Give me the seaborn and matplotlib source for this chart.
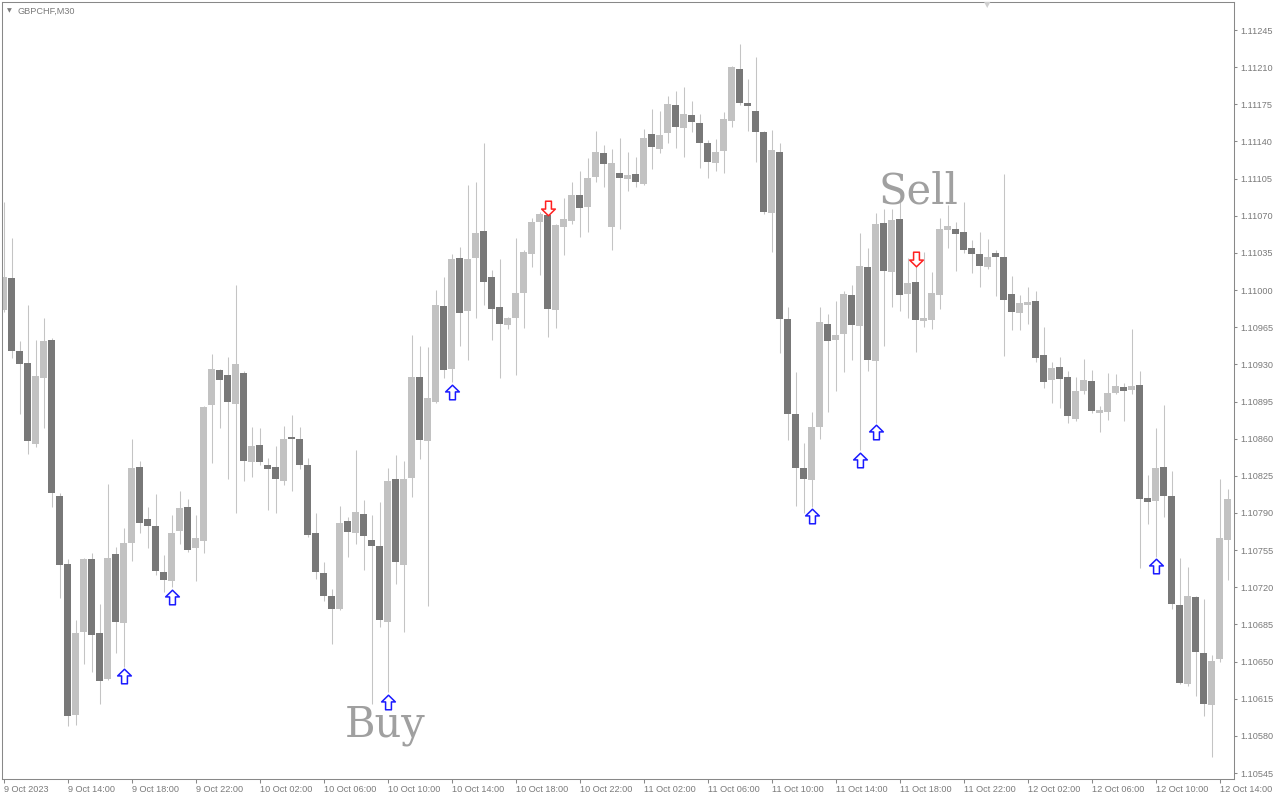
import numpy as np
import pandas as pd
import matplotlib
matplotlib.use("Agg")
import matplotlib.pyplot as plt
from matplotlib.path import Path
import seaborn as sns

symbol = "GBPCHF,M30"

# one bar per 30 minutes, first bar = 9 Oct 10:00
opens = [1.10981, 1.11011, 1.10943, 1.10931, 1.10855, 1.10917, 1.10953, 1.10806, 1.10742, 1.10600,
         1.10678, 1.10747, 1.10677, 1.10634, 1.10751, 1.10686, 1.10762, 1.10833, 1.10784, 1.10778,
         1.10734, 1.10726, 1.10773, 1.10796, 1.10757, 1.10764, 1.10892, 1.10925, 1.10920, 1.10893,
         1.10922, 1.10838, 1.10854, 1.10835, 1.10833, 1.10820, 1.10861, 1.10860, 1.10835, 1.10771,
         1.10733, 1.10712, 1.10700, 1.10782, 1.10771, 1.10789, 1.10765, 1.10759, 1.10687, 1.10822,
         1.10741, 1.10823, 1.10918, 1.10858, 1.10895, 1.10985, 1.10926, 1.11030, 1.10980, 1.11030,
         1.11056, 1.11012, 1.10984, 1.10967, 1.10974, 1.10997, 1.11034, 1.11064, 1.11071, 1.10981,
         1.11059, 1.11065, 1.11090, 1.11078, 1.11107, 1.11129, 1.11059, 1.11110, 1.11105, 1.11109,
         1.11100, 1.11147, 1.11133, 1.11148, 1.11174, 1.11153, 1.11165, 1.11157, 1.11139, 1.11120,
         1.11131, 1.11159, 1.11208, 1.11176, 1.11169, 1.11149, 1.11073, 1.11130, 1.10973, 1.10883,
         1.10832, 1.10821, 1.10871, 1.10968, 1.10953, 1.10959, 1.10995, 1.10966, 1.11022, 1.10933,
         1.11063, 1.11017, 1.11067, 1.10996, 1.11008, 1.10971, 1.10972, 1.10995, 1.11057, 1.11058,
         1.11055, 1.11040, 1.11034, 1.11022, 1.11035, 1.11031, 1.10996, 1.10978, 1.10986, 1.10990,
         1.10939, 1.10915, 1.10928, 1.10918, 1.10879, 1.10905, 1.10914, 1.10884, 1.10885, 1.10903,
         1.10909, 1.10906, 1.10911, 1.10804, 1.10801, 1.10833, 1.10806, 1.10703, 1.10629, 1.10711,
         1.10658, 1.10609, 1.10652, 1.10765]
highs = [1.11083, 1.11049, 1.10952, 1.10986, 1.10953, 1.10974, 1.10955, 1.10809, 1.10747, 1.10689,
         1.10748, 1.10752, 1.10704, 1.10817, 1.10758, 1.10776, 1.10860, 1.10839, 1.10796, 1.10808,
         1.10750, 1.10788, 1.10811, 1.10803, 1.10788, 1.10891, 1.10940, 1.10926, 1.10937, 1.11005,
         1.10924, 1.10871, 1.10870, 1.10842, 1.10853, 1.10872, 1.10882, 1.10871, 1.10842, 1.10790,
         1.10744, 1.10718, 1.10797, 1.10786, 1.10849, 1.10802, 1.10788, 1.10800, 1.10832, 1.10845,
         1.10839, 1.10958, 1.10947, 1.10946, 1.11000, 1.11012, 1.11034, 1.11041, 1.11099, 1.11102,
         1.11139, 1.11019, 1.11029, 1.10975, 1.11049, 1.11038, 1.11068, 1.11074, 1.11076, 1.11062,
         1.11087, 1.11102, 1.11112, 1.11124, 1.11150, 1.11137, 1.11133, 1.11143, 1.11130, 1.11125,
         1.11152, 1.11171, 1.11169, 1.11183, 1.11188, 1.11191, 1.11178, 1.11166, 1.11141, 1.11142,
         1.11168, 1.11211, 1.11232, 1.11199, 1.11220, 1.11150, 1.11151, 1.11139, 1.10984, 1.10923,
         1.10856, 1.10885, 1.10984, 1.10977, 1.10990, 1.10999, 1.11005, 1.11054, 1.11040, 1.11073,
         1.11076, 1.11076, 1.11083, 1.11030, 1.11028, 1.11036, 1.11017, 1.11068, 1.11080, 1.11064,
         1.11083, 1.11047, 1.11055, 1.11048, 1.11038, 1.11109, 1.11013, 1.10995, 1.11003, 1.10999,
         1.10965, 1.10932, 1.10937, 1.10924, 1.10918, 1.10935, 1.10925, 1.10891, 1.10922, 1.10921,
         1.10912, 1.10963, 1.10924, 1.10826, 1.10870, 1.10892, 1.10830, 1.10748, 1.10739, 1.10712,
         1.10709, 1.10656, 1.10822, 1.10813]
lows = [1.10979, 1.10936, 1.10883, 1.10846, 1.10852, 1.10870, 1.10796, 1.10710, 1.10589, 1.10590,
        1.10648, 1.10640, 1.10610, 1.10633, 1.10658, 1.10645, 1.10745, 1.10771, 1.10757, 1.10732,
        1.10716, 1.10720, 1.10761, 1.10753, 1.10726, 1.10752, 1.10837, 1.10870, 1.10822, 1.10790,
        1.10820, 1.10824, 1.10835, 1.10793, 1.10790, 1.10816, 1.10811, 1.10831, 1.10767, 1.10728,
        1.10707, 1.10667, 1.10699, 1.10749, 1.10761, 1.10736, 1.10610, 1.10683, 1.10621, 1.10723,
        1.10678, 1.10805, 1.10841, 1.10702, 1.10894, 1.10917, 1.10913, 1.10947, 1.10934, 1.10974,
        1.10986, 1.10953, 1.10917, 1.10963, 1.10920, 1.10964, 1.11022, 1.11014, 1.10956, 1.10964,
        1.11033, 1.11062, 1.11050, 1.11055, 1.11102, 1.11097, 1.11038, 1.11058, 1.11093, 1.11097,
        1.11099, 1.11114, 1.11129, 1.11139, 1.11134, 1.11125, 1.11149, 1.11115, 1.11106, 1.11112,
        1.11110, 1.11154, 1.11174, 1.11150, 1.11121, 1.11072, 1.11036, 1.10941, 1.10859, 1.10797,
        1.10790, 1.10796, 1.10860, 1.10885, 1.10905, 1.10923, 1.10934, 1.10849, 1.10924, 1.10875,
        1.10947, 1.10984, 1.10980, 1.10974, 1.10942, 1.10965, 1.10963, 1.10982, 1.11040, 1.11018,
        1.11035, 1.11016, 1.11003, 1.11020, 1.10994, 1.10938, 1.10962, 1.10962, 1.10968, 1.10932,
        1.10908, 1.10894, 1.10889, 1.10875, 1.10877, 1.10902, 1.10884, 1.10866, 1.10878, 1.10902,
        1.10877, 1.10902, 1.10738, 1.10780, 1.10749, 1.10786, 1.10700, 1.10629, 1.10627, 1.10618,
        1.10599, 1.10560, 1.10650, 1.10727]
closes = [1.11012, 1.10943, 1.10930, 1.10858, 1.10919, 1.10952, 1.10809, 1.10741, 1.10599, 1.10677,
          1.10747, 1.10675, 1.10632, 1.10748, 1.10687, 1.10762, 1.10832, 1.10781, 1.10778, 1.10735,
          1.10727, 1.10771, 1.10795, 1.10755, 1.10766, 1.10890, 1.10926, 1.10915, 1.10895, 1.10930,
          1.10839, 1.10853, 1.10838, 1.10831, 1.10822, 1.10860, 1.10860, 1.10835, 1.10769, 1.10734,
          1.10712, 1.10700, 1.10781, 1.10772, 1.10791, 1.10768, 1.10759, 1.10689, 1.10820, 1.10744,
          1.10822, 1.10918, 1.10859, 1.10898, 1.10986, 1.10925, 1.11029, 1.10978, 1.11029, 1.11054,
          1.11008, 1.10982, 1.10968, 1.10974, 1.10997, 1.11036, 1.11064, 1.11072, 1.10982, 1.11061,
          1.11067, 1.11090, 1.11077, 1.11106, 1.11130, 1.11119, 1.11120, 1.11106, 1.11108, 1.11102,
          1.11143, 1.11135, 1.11146, 1.11175, 1.11154, 1.11166, 1.11158, 1.11139, 1.11121, 1.11130,
          1.11161, 1.11210, 1.11176, 1.11173, 1.11149, 1.11074, 1.11132, 1.10973, 1.10883, 1.10832,
          1.10822, 1.10871, 1.10970, 1.10952, 1.10958, 1.10996, 1.10967, 1.11023, 1.10934, 1.11062,
          1.11018, 1.11066, 1.10995, 1.11007, 1.10972, 1.10974, 1.10997, 1.11058, 1.11060, 1.11053,
          1.11038, 1.11034, 1.11023, 1.11031, 1.11031, 1.10991, 1.10979, 1.10988, 1.10989, 1.10936,
          1.10913, 1.10927, 1.10916, 1.10881, 1.10905, 1.10915, 1.10886, 1.10887, 1.10903, 1.10910,
          1.10905, 1.10910, 1.10803, 1.10800, 1.10832, 1.10806, 1.10704, 1.10630, 1.10712, 1.10659,
          1.10610, 1.10651, 1.10766, 1.10803]

# bars (index into the lists above) that carry an arrow signal
buy_bars = [15, 21, 48, 56, 101, 107, 109, 144]
sell_bars = [68, 114]

time_labels = ["9 Oct 2023", "9 Oct 14:00", "9 Oct 18:00", "9 Oct 22:00", "10 Oct 02:00",
               "10 Oct 06:00", "10 Oct 10:00", "10 Oct 14:00", "10 Oct 18:00", "10 Oct 22:00",
               "11 Oct 02:00", "11 Oct 06:00", "11 Oct 10:00", "11 Oct 14:00", "11 Oct 18:00",
               "11 Oct 22:00", "12 Oct 02:00", "12 Oct 06:00", "12 Oct 10:00", "12 Oct 14:00"]
price_labels = ["1.10545", "1.10580", "1.10615", "1.10650", "1.10685", "1.10720", "1.10755",
                "1.10790", "1.10825", "1.10860", "1.10895", "1.10930", "1.10965", "1.11000",
                "1.11035", "1.11070", "1.11105", "1.11140", "1.11175", "1.11210", "1.11245"]


def arrow_marker(up=True):
    # hollow block arrow, like the terminal's signal arrows
    pts = [(0, 0.5), (0.47, 0.04), (0.2, 0.04), (0.2, -0.5), (-0.2, -0.5),
           (-0.2, 0.04), (-0.47, 0.04), (0, 0.5)]
    if not up:
        pts = [(x, -y) for x, y in pts]
    codes = [Path.MOVETO] + [Path.LINETO] * 6 + [Path.CLOSEPOLY]
    return Path(pts, codes)


def main():
    sns.set_style("white")
    plt.rcParams['font.family'] = ['Liberation Sans', 'DejaVu Sans']

    df = pd.DataFrame({"open": opens, "high": highs, "low": lows, "close": closes})
    df["bar"] = np.arange(len(df))
    df["bull"] = df["close"] >= df["open"]

    fig = plt.figure(figsize=(12.8, 8), dpi=100)
    ax = fig.add_axes([2 / 1280, 21 / 800, 1232 / 1280, 777 / 800])

    # wicks
    ax.vlines(df["bar"], df["low"], df["high"], color="#c4c4c4", linewidth=0.75, zorder=1)

    # bodies
    body_low = df[["open", "close"]].min(axis=1)
    body_h = (df["close"] - df["open"]).abs().clip(lower=0.000012)
    colors = np.where(df["bull"], "#c2c2c2", "#787878")
    ax.bar(df["bar"], body_h, bottom=body_low, width=0.84, color=colors, linewidth=0, zorder=2)

    # signal arrows
    buys = df.loc[buy_bars].copy()
    buys["y"] = buys["low"] - 0.00009
    sells = df.loc[sell_bars].copy()
    sells["y"] = sells["high"] + 0.00001
    sns.scatterplot(data=buys, x="bar", y="y", marker=arrow_marker(True), s=110,
                    color="white", edgecolor="#1a1aff", linewidth=1.1, zorder=4,
                    legend=False, ax=ax)
    sns.scatterplot(data=sells, x="bar", y="y", marker=arrow_marker(False), s=110,
                    color="white", edgecolor="#ff2020", linewidth=1.1, zorder=4,
                    legend=False, ax=ax)

    ax.text(47.75, 1.10579, "Buy", fontsize=30, color="#a0a0a0", family="DejaVu Serif",
            ha="center", va="baseline")
    ax.text(114.4, 1.11082, "Sell", fontsize=30, color="#a0a0a0", family="DejaVu Serif",
            ha="center", va="baseline")

    ax.set_xlim(-0.1875, 153.81)
    ax.set_ylim(1.105394, 1.112714)
    ax.set_xlabel("")
    ax.set_ylabel("")

    ax.set_xticks(np.arange(0, len(df), 8))
    ax.set_xticklabels(time_labels, ha="left")
    ax.yaxis.tick_right()
    ax.set_yticks([float(p) for p in price_labels])
    ax.set_yticklabels(price_labels)
    ax.tick_params(axis="x", direction="out", length=3, width=0.75, color="#888888",
                   labelsize=6.6, labelcolor="#7a7a7a", pad=1.5, bottom=True)
    ax.tick_params(axis="y", direction="out", length=2.5, width=0.75, color="#888888",
                   labelsize=6.6, labelcolor="#7a7a7a", pad=2.4, right=True, left=False)
    for s in ax.spines.values():
        s.set_color("#888888")
        s.set_linewidth(0.75)
    ax.grid(False)

    fig.text(9 / 1280, 1 - 11 / 800, "\u25bc", fontsize=4.5, color="#7a7a7a",
             ha="center", va="center", family="DejaVu Sans")
    fig.text(18 / 1280, 1 - 11 / 800, symbol, fontsize=6.6, color="#7a7a7a", va="center")
    fig.text(987 / 1280, 1 - 5 / 800, "\u25bc", fontsize=6, color="#cfcfcf",
             ha="center", va="center", family="DejaVu Sans")

    fig.savefig("out.png", dpi=100)


if __name__ == '__main__':
    main()
